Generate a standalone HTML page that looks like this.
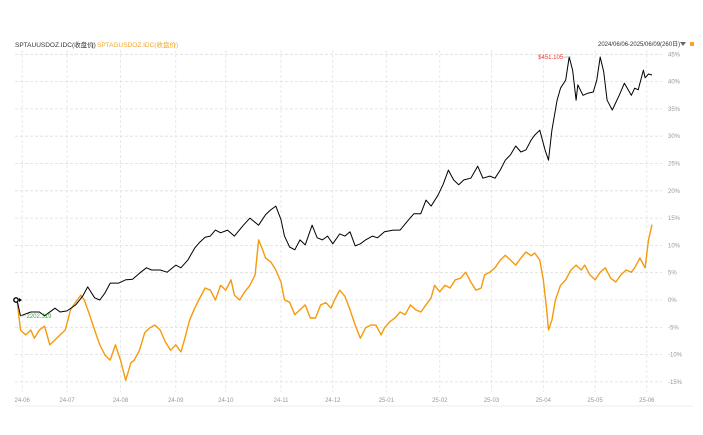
<!DOCTYPE html>
<html><head><meta charset="utf-8"><style>
body{margin:0;background:#fff;}
svg{display:block;font-family:"Liberation Sans","Noto Sans CJK SC",sans-serif;}
</style></head><body>
<svg id="chart" width="703" height="435" viewBox="0 0 703 435">
<text x="15" y="47" font-size="6.5" fill="#333">SPTAUUSDOZ.IDC(收盘价)</text>
<text x="92" y="47" font-size="6.5" fill="#333">|</text>
<text x="97" y="47" font-size="6.5" fill="#f5a623">SPTAGUSDOZ.IDC(收盘价)</text>
<text x="174" y="47" font-size="6.5" fill="#f5a623">|</text>
<text x="598" y="46" font-size="6" fill="#333">2024/06/06-2025/06/09(260日)</text>
<path d="M680 42h6l-3 4z" fill="#666"/>
<rect x="690" y="42" width="4" height="4" fill="#f5a623"/>
<g id="grid"></g>
<g id="series"></g>
<line x1="15" y1="406" x2="693" y2="406" stroke="#eee"/>
</svg>
<script>
const xTicks=["24-06","24-07","24-08","24-09","24-10","24-11","24-12","25-01","25-02","25-03","25-04","25-05","25-06"];
const xTickDays=[3,29,60,92,121,153,183,214,245,275,305,335,365];
const yTicks=[45,40,35,30,25,20,15,10,5,0,-5,-10,-15];
const blackDays=[0,2,8,13,16,22,25,29,34,38,41,45,48,51,54,59,63,67,71,75,78,83,87,92,95,99,103,106,109,112,115,118,122,126,131,135,140,144,147,150,153,155,158,161,164,167,171,174,177,180,183,187,190,193,196,199,202,206,209,213,218,222,227,230,234,237,240,244,247,250,253,256,259,263,267,270,274,277,280,283,286,289,292,295,298,300,303,306,308,310,313,315,318,320,322,324,325,328,331,334,336,338,340,342,345,349,352,356,358,360,363,364,366,368];
const blackVals=[0,-2.9,-2.2,-2.2,-2.9,-1.5,-2.2,-2.0,-0.9,0.7,2.4,0.4,0,1.3,3.1,3.1,3.7,3.8,4.9,5.9,5.5,5.5,5.1,6.4,5.9,7.3,9.5,10.6,11.5,11.7,12.8,12.3,12.8,11.7,13.6,15.0,13.7,15.6,16.5,17.2,14.7,11.7,9.7,9.2,11.0,10.1,13.7,11.4,11.0,11.7,10.3,12.1,11.7,12.5,9.9,10.3,11.0,11.7,11.4,12.5,12.8,12.8,14.7,15.8,15.8,18.3,17.2,19.2,21.2,23.8,22.0,21.1,22.0,22.3,24.5,22.3,22.7,22.3,23.8,25.6,26.6,28.2,27.1,27.5,29.3,30.2,31.1,27.5,25.6,31.1,36.6,38.8,40.3,44.5,42.1,36.6,39.4,37.5,37.9,38.1,40.3,44.5,41.8,36.6,34.8,37.5,39.7,37.5,38.8,38.5,42.1,40.7,41.4,41.2];
const orangeDays=[0,2,5,8,10,13,16,19,22,25,28,31,34,37,39,42,45,48,51,54,57,60,63,66,68,71,74,77,80,83,86,89,92,95,97,100,103,106,109,112,115,118,121,124,126,129,132,135,138,140,142,144,147,150,153,155,158,161,164,167,170,173,176,179,182,184,187,190,193,196,199,202,205,208,211,213,216,219,222,225,228,231,234,237,240,242,245,248,251,254,257,260,263,266,269,271,274,277,280,283,286,289,292,295,298,300,303,305,307,308,310,312,315,318,321,324,327,329,332,335,338,341,344,347,350,353,356,358,361,364,366,368];
const orangeVals=[0,-5.5,-6.4,-5.5,-7.0,-5.5,-4.8,-8.2,-7.3,-6.4,-5.5,-1.8,-0.4,0.9,0,-2.7,-5.5,-8.2,-10.1,-11.0,-8.2,-11.0,-14.7,-11.5,-11.0,-9.2,-6.0,-5.1,-4.6,-5.5,-7.7,-9.2,-8.2,-9.5,-7.3,-3.7,-1.5,0.4,2.2,1.8,0,2.7,1.8,3.7,0.9,0,1.5,2.7,4.6,11.0,9.5,7.7,7.0,5.5,3.3,0,-0.4,-2.7,-1.8,-0.9,-3.3,-3.3,-0.9,-0.5,-1.5,0,1.8,0.7,-1.8,-4.6,-7.0,-5.1,-4.6,-4.6,-6.4,-5.1,-4.0,-3.3,-2.2,-2.7,-0.9,-1.8,-2.2,-0.9,0.4,2.7,1.5,2.7,2.2,3.7,4.0,5.1,3.3,1.8,2.2,4.6,5.1,5.9,7.3,8.2,7.3,6.4,7.7,8.8,8.1,8.6,7.3,3.7,-1.8,-5.5,-3.7,0,2.7,3.7,5.5,6.4,5.5,6.4,4.6,3.7,5.1,5.9,4.0,3.3,4.6,5.5,5.1,5.9,7.7,5.9,11.0,13.8];
const NS="http://www.w3.org/2000/svg";
const X=d=>17+d/368*635;
const Y=v=>300-v*5.46;
const grid=document.getElementById('grid'),ser=document.getElementById('series');
function mk(tag,attrs,parent){const e=document.createElementNS(NS,tag);for(const k in attrs)e.setAttribute(k,attrs[k]);parent.appendChild(e);return e;}
yTicks.forEach(v=>{
  const l=mk('line',{x1:15,x2:662,y1:Y(v),y2:Y(v),stroke:'#ddd','stroke-dasharray':'3,2','stroke-width':0.8},grid);
  
  
  const t=mk('text',{x:668,y:Y(v)+2,'font-size':6,fill:'#999'},grid);
  t.textContent=v+'%';
  
  
});
xTicks.forEach((s,i)=>{
  const x=X(xTickDays[i]);
  const l=mk('line',{x1:x,x2:x,y1:50,y2:392,stroke:'#e4e4e4','stroke-dasharray':'3,2','stroke-width':0.8},grid);
  
  
  const t=mk('text',{x:x,y:402,'font-size':6,fill:'#999','text-anchor':'middle'},grid);
  t.textContent=s;
  
  
});
function line(days,vals,color,name){
  const d=days.map((dd,i)=>(i?'L':'M')+X(dd).toFixed(1)+' '+Y(vals[i]).toFixed(1)).join('');
  const p=mk('path',{d:d,fill:'none',stroke:color,'stroke-width':color=='#000'?1:1.4,'stroke-linejoin':'round'},ser);
  
  
}
line(orangeDays,orangeVals,'#f59a0c','silver-line');
line(blackDays,blackVals,'#000','gold-line');
// max / min annotations
let mi=blackVals.indexOf(Math.max(...blackVals));
const mx=mk('line',{x1:X(blackDays[mi])-6,x2:X(blackDays[mi])+2,y1:Y(blackVals[mi]),y2:Y(blackVals[mi]),stroke:'#7aa',"stroke-width":0.6},ser);


const mt=mk('text',{x:X(blackDays[mi])-6,y:Y(blackVals[mi])+2,'font-size':6,fill:'#e33','text-anchor':'end'},ser);
mt.textContent='$451.105';


let ni=blackVals.indexOf(Math.min(...blackVals));
const nl=mk('line',{x1:X(blackDays[ni]),x2:X(blackDays[ni])+6,y1:Y(blackVals[ni]),y2:Y(blackVals[ni]),stroke:'#7cc',"stroke-width":0.6},ser);


const nt=mk('text',{x:X(blackDays[ni])+6,y:Y(blackVals[ni])+2,'font-size':6,fill:'#3a3'},ser);
nt.textContent='2202.319';


const sm=mk('circle',{cx:16,cy:300,r:2.2,fill:'#fff',stroke:'#000','stroke-width':1.4},ser);


const sa=mk('path',{d:'M19 298l3 2-3 2z',fill:'#000'},ser);


</script>
</body></html>
